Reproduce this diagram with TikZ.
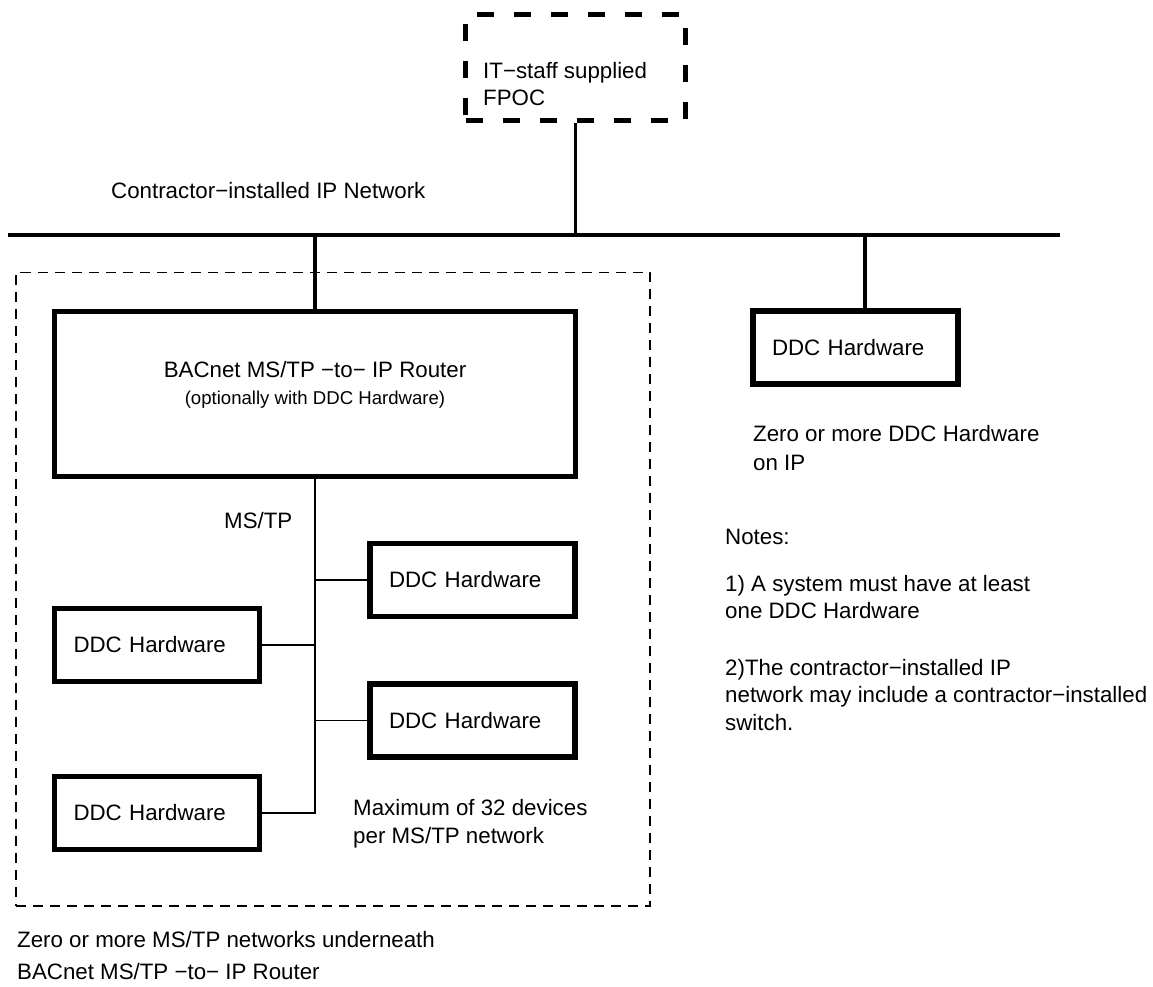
\documentclass[tikz,border=0pt]{standalone}
\usepackage{fontspec}
\setmainfont{Liberation Sans}
\begin{document}
\begin{tikzpicture}[x=1pt,y=-1pt,
  every node/.style={inner sep=0pt, font=\fontsize{22.3}{28}\selectfont},
  hwbox/.style={draw, line width=5.5pt, minimum width=205pt, minimum height=73pt,
                text width=167pt, align=left},
  routerbox/.style={draw, line width=5.5pt, minimum width=521pt, minimum height=165pt},
  fpocbox/.style={draw, line width=5.5pt, dash pattern=on 17pt off 20pt,
                  minimum width=220pt, minimum height=106pt},
  zonebox/.style={draw, line width=1.5pt, dash pattern=on 10pt off 7pt,
                  minimum width=634pt, minimum height=633.5pt},
  netline/.style={line width=3.2pt},
  mstpline/.style={line width=1.5pt},
  txt/.style={anchor=north west, align=left},
  smalltxt/.style={font=\fontsize{18.6}{22}\selectfont},
]
\useasboundingbox (0,0) rectangle (1153,986);

% firewall / point of connection supplied by IT staff
\node[fpocbox] (fpoc) at (575.5,67.5) {};
\node[txt, font=\fontsize{22.3}{27}\selectfont] (fpoctext) at (483,62) {IT−staff supplied\\FPOC};

% IP backbone
\coordinate (busW) at (8,235);
\coordinate (busE) at (1060,235);
\coordinate (tapip) at (865,235);
\draw[netline] (busW) -- (busE);
\node[txt] (ipnet) at (111,182) {Contractor−installed IP Network};
\draw[netline] (fpoc.south) -- (fpoc.south |- busW);

% MS/TP zone under the router
\node[zonebox] (zone) at (333,589.25) {};
\node[routerbox] (router) at (315,394) {};
\node[anchor=base] (routertitle) at (315,377) {BACnet MS/TP −to− IP Router};
\node[anchor=base, smalltxt] (routernote) at (315,404) {(optionally with DDC Hardware)};
\draw[netline] (router.north |- busW) -- (router.north);

\node[hwbox] (d1) at (472.5,580) {DDC Hardware};
\node[hwbox] (d2) at (472.5,720.5) {DDC Hardware};
\node[hwbox] (d3) at (157,645) {DDC Hardware};
\node[hwbox] (d4) at (157,813) {DDC Hardware};

\draw[mstpline] (router.south) |- (d4.east);
\draw[mstpline] (d1.west) -- (d1.west -| router.south);
\draw[mstpline] (d2.west) -- (d2.west -| router.south);
\draw[mstpline] (d3.east) -- (d3.east -| router.south);

\node[txt] (mstp) at (224,512) {MS/TP};
\node[txt, font=\fontsize{22.3}{28.5}\selectfont] (maxdev) at (353,799) {Maximum of 32 devices\\per MS/TP network};
\node[txt, font=\fontsize{22.3}{32}\selectfont] (zonecap) at (17,931) {Zero or more MS/TP networks underneath\\BACnet MS/TP −to− IP Router};

% DDC hardware directly on IP
\node[hwbox] (ddcip) at (855.5,347.5) {DDC Hardware};
\draw[netline] (tapip) -- (tapip |- ddcip.north);
\node[txt, font=\fontsize{22.3}{29}\selectfont] (ipnote) at (753,425) {Zero or more DDC Hardware\\on IP};

% notes
\node[txt] (notes) at (725,529) {Notes:};
\node[txt, font=\fontsize{22.3}{27.5}\selectfont] (note1) at (725,575) {1) A system must have at least\\one DDC Hardware};
\node[txt, font=\fontsize{22.3}{27.5}\selectfont] (note2) at (725,659) {2)The contractor−installed IP\\network may include a contractor−installed\\switch.};
\end{tikzpicture}
\end{document}
